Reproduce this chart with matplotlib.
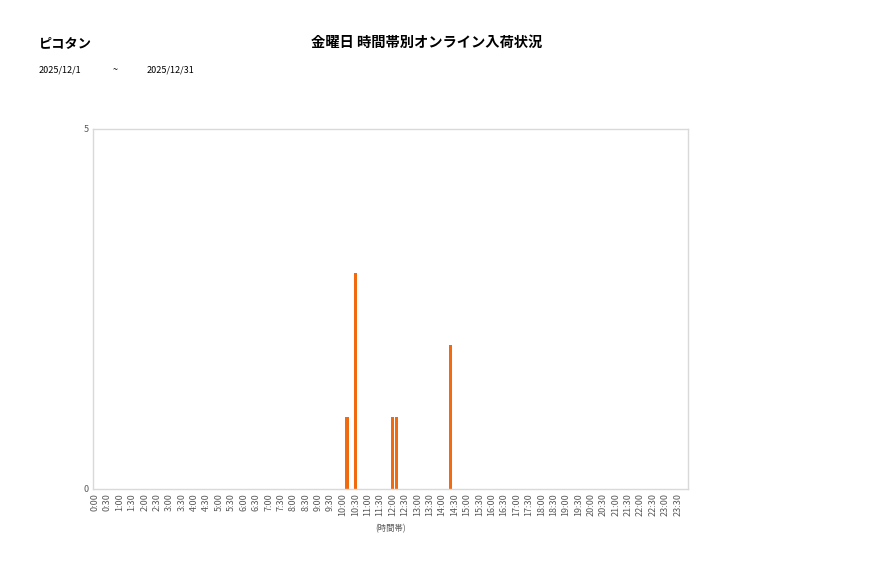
import matplotlib
matplotlib.use("Agg")
import matplotlib.pyplot as plt

plt.rcParams['font.family'] = ['Noto Sans CJK JP', 'DejaVu Sans']

# data
shop_name = "ピコタン"
chart_title = "金曜日 時間帯別オンライン入荷状況"
date_from = "2025/12/1"
date_to = "2025/12/31"
arrival_times = ["10:10", "10:30", "12:00", "12:10", "14:20"]
arrival_counts = [1, 3, 1, 1, 2]

# 10-minute slots across the day, labelled every 30 minutes
slots = [f"{h}:{m:02d}" for h in range(24) for m in range(0, 60, 10)]
tick_labels = [f"{h}:{m:02d}" for h in range(24) for m in (0, 30)]

counts = [0] * len(slots)
for t, c in zip(arrival_times, arrival_counts):
    counts[slots.index(t)] = c

fig = plt.figure(figsize=(8.77, 5.78), dpi=100)
ax = fig.add_axes([0.106, 0.154, 0.6785, 0.623])

ax.bar(range(len(slots)), counts, width=0.8, color='#F26A10')
ax.set_xlim(-0.5, len(slots) - 0.5)
ax.set_ylim(0, 5)
ax.set_yticks([0, 5])
ax.set_xticks([slots.index(l) for l in tick_labels])
ax.set_xticklabels(tick_labels, rotation=90)
ax.tick_params(axis='both', length=0, labelsize=6.5, colors='#595959', pad=3)
for s in ax.spines.values():
    s.set_color('#d9d9d9')
    s.set_linewidth(1)
ax.set_xlabel("(時間帯)", fontsize=6, color='#595959', labelpad=6)

fig.text(39 / 877, 1 - 43 / 578, shop_name, fontsize=9.5, fontweight='bold', va='center')
fig.text(427 / 877, 1 - 43 / 578, chart_title, fontsize=10.3, fontweight='bold', va='center', ha='center')
fig.text(39 / 877, 1 - 70 / 578, date_from, fontsize=6.5, va='center')
fig.text(113 / 877, 1 - 70 / 578, "~", fontsize=6.5, va='center')
fig.text(147 / 877, 1 - 70 / 578, date_to, fontsize=6.5, va='center')

fig.savefig("out.png", dpi=100)
